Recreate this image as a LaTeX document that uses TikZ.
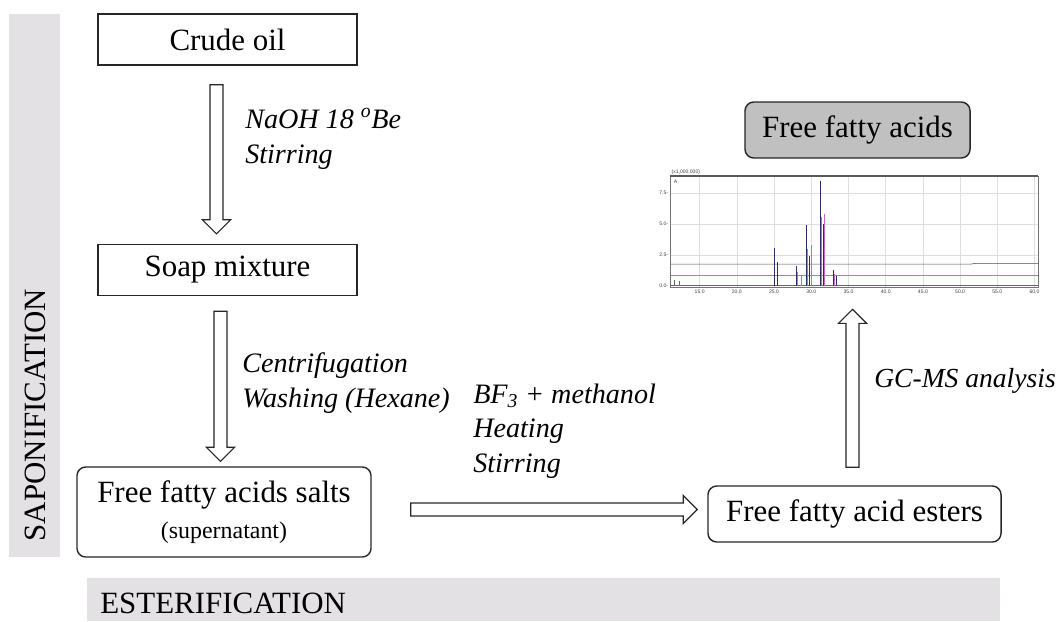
\documentclass[tikz,border=0pt]{standalone}
\usepackage{fontspec}
\setmainfont{Liberation Serif}
\setsansfont{Liberation Sans}
\usetikzlibrary{calc}

\definecolor{bandgray}{RGB}{228,225,228}
\definecolor{accgray}{RGB}{192,192,192}
\definecolor{gridgray}{RGB}{222,222,222}
\definecolor{trmag}{RGB}{204,102,204}
\definecolor{trnavy}{RGB}{45,45,95}

% hollow block arrow between two points
\newcommand{\blockarrow}[2]{%
  \path (#1) coordinate (ba-s) (#2) coordinate (ba-e);
  \path ($(ba-e)!10pt!(ba-s)$) coordinate (ba-h);
  \draw[blockarr] ($(ba-s)!4.6pt!90:(ba-e)$) -- ($(ba-h)!4.6pt!-90:(ba-s)$)
    -- ($(ba-h)!10pt!-90:(ba-s)$) -- (ba-e) -- ($(ba-h)!10pt!90:(ba-s)$)
    -- ($(ba-h)!4.6pt!90:(ba-s)$) -- ($(ba-s)!4.6pt!-90:(ba-e)$) -- cycle;
}

\begin{document}
\begin{tikzpicture}[x=0.025cm, y=-0.025cm,
    procbox/.style={rectangle, draw=black!85, line width=1pt, minimum width=6.475cm, minimum height=1.275cm, inner sep=0pt, font=\fontsize{22}{26}\selectfont},
    roundbox/.style={rectangle, draw=black!85, line width=1pt, rounded corners=2.2mm, inner sep=0pt, align=center, font=\fontsize{22}{26}\selectfont},
    steplbl/.style={anchor=base west, inner sep=0pt, align=left, font=\itshape\fontsize{20}{24.5}\selectfont},
    bandtxt/.style={inner sep=0pt, font=\fontsize{22}{26}\selectfont},
    blockarr/.style={draw=black!85, fill=white, line width=0.8pt, line join=miter},
    gridln/.style={gridgray, line width=0.3pt},
    ticklbl/.style={inner sep=0.5pt, text=black!75, font=\sffamily\fontsize{3.6}{4}\selectfont}
]
\useasboundingbox (0,0) rectangle (1062,621);

% Bands
\fill[bandgray] (9,14) rectangle (60,557);
\fill[bandgray] (87,578) rectangle (1000,621);
\node[bandtxt, rotate=90] (sapo) at (35,415) {SAPONIFICATION};
\node[bandtxt, anchor=base west] (ester) at (100,613) {ESTERIFICATION};

% Steps
\node[procbox] (crude) at (227.5,39.5) {Crude oil};
\node[procbox] (soap) at (227.5,270) {Soap mixture};
\node[roundbox, minimum width=7.35cm, minimum height=2.25cm] (salts) at (224,512) {Free fatty acids salts\\{\fontsize{17}{21}\selectfont (supernatant)}};
\node[roundbox, minimum width=7.325cm, minimum height=1.4cm] (esters) at (854.5,514) {Free fatty acid esters};
\node[roundbox, fill=accgray, minimum width=5.625cm, minimum height=1.4cm] (ffa) at (857.5,130) {Free fatty acids};
\node[inner sep=0pt, minimum width=9.2cm, minimum height=2.775cm] (chart) at (854,231.5) {};

% Chromatogram
\begin{scope}[shift={(588,286)}, x=0.186cm, y=0.31cm]
  \foreach \t in {15,20,...,60}
    \draw[gridln] (\t,-0.08) -- (\t,8.87);
  \foreach \v in {2.5,5,7.5}
    \draw[gridln] (11.02,\v) -- (60.48,\v);
  \draw[black!70, line width=0.4pt] (11.02,1.77) -- (51.5,1.77) -- (52,1.82) -- (60.48,1.82);
  \draw[trmag, line width=0.4pt] (11.02,0.89) -- (60.48,0.89);
  \draw[black!60, line width=0.3pt] (11.02,0.04) -- (60.48,0.04);
  \foreach \t/\v in {11.6/0.5, 12.3/0.4}
    \draw[black!60, line width=0.3pt] (\t,0) -- (\t,\v);
  \foreach \t/\v in {25.1/2.0, 28.1/1.1, 28.7/0.8, 29.5/3.0, 29.95/3.3, 31.35/5.6, 31.75/5.8, 33.1/1.0}
    \draw[trmag, line width=0.5pt] (\t,0) -- (\t,\v);
  \foreach \t/\v in {25.0/3.1, 25.5/1.9, 28.0/1.6, 29.4/4.9, 29.8/2.4, 31.2/8.5, 31.6/5.0, 33.0/1.3, 33.4/0.8}
    \draw[trnavy, line width=0.55pt] (\t,0) -- (\t,\v);
  \draw[black!55, line width=0.4pt] (11.02,-0.08) rectangle (60.48,8.87);
  \draw[black!65, line width=0.9pt] (11.02,8.87) -- (60.48,8.87);
  \foreach \t in {15,20,...,60}
    \node[ticklbl, anchor=north] (xl\t) at (\t,-0.25) {\t.0};
  \foreach \v/\s in {0/0.0, 2.5/2.5, 5/5.0, 7.5/7.5}
    \node[ticklbl, anchor=east] (yl\s) at (10.9,\v) {\s-};
  \node[ticklbl, anchor=south west] (scl) at (11.1,8.9) {(x1,000,000)};
  \node[ticklbl, anchor=north west] (trA) at (11.4,8.6) {A};
\end{scope}

% Arrows
\blockarrow{$(crude.south)+(-11,19)$}{$(soap.north)+(-11,-10)$}
\blockarrow{$(soap.south)+(-7,15)$}{$(soap.south |- salts.north)+(-7,-5)$}
\blockarrow{$(salts.east)+(39,-2.5)$}{$(esters.west)+(-10,-4.5)$}
\blockarrow{$(esters.north)+(-2,-18)$}{$(chart.south)+(-1.5,22)$}

% Conditions (base = last line)
\node[steplbl] (naoh) at (245,163) {NaOH 18 \textsuperscript{o}Be\\Stirring};
\node[steplbl] (wash) at (242,407) {Centrifugation\\Washing (Hexane)};
\node[steplbl] (bf3) at (473,472) {BF\textsubscript{3} + methanol\\Heating\\Stirring};
\node[steplbl, font=\itshape\fontsize{19.6}{24}\selectfont] (gcms) at (874,387) {GC-MS analysis};

\end{tikzpicture}
\end{document}
